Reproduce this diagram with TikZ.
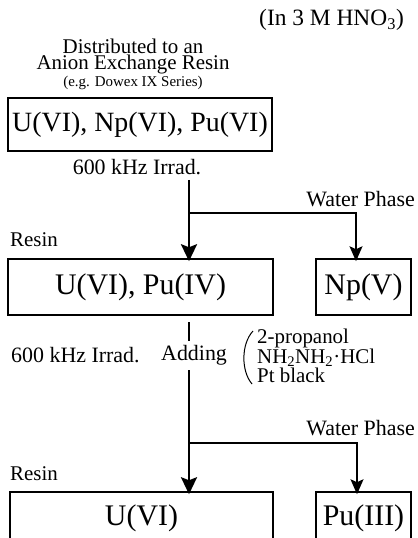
\documentclass[tikz,border=0pt]{standalone}
\usepackage{fontspec}
\setmainfont{Liberation Serif}
\usetikzlibrary{arrows.meta}
\begin{document}
\begin{tikzpicture}[x=1bp,y=-1bp,
  box/.style={draw, line width=1.5bp, inner sep=0pt, font=\fontsize{30}{30}\selectfont},
  lbl/.style={inner sep=0pt, font=\fontsize{22}{22}\selectfont},
  mainarrow/.style={line width=2.5bp, -{Stealth[length=17bp, width=16bp, inset=3bp]}},
  brancharrow/.style={line width=1.5bp, -{Stealth[length=15bp, width=13bp, inset=3bp]}},
  stem/.style={line width=2.5bp}]
\useasboundingbox (0,0) rectangle (417,538);
\clip (0,0) rectangle (417,538);
% header texts
\node[inner sep=0pt, anchor=base east, font=\fontsize{23.5}{23.5}\selectfont] (hno) at (404,26) {(In 3 M HNO\textsubscript{3})};
\node[inner sep=0pt, anchor=north, align=center, font=\fontsize{21}{16.5}\selectfont] (hdr) at (133,38.5)
  {Distributed to an\\Anion Exchange Resin\\{\fontsize{15}{16}\selectfont (e.g. Dowex IX Series)}};
% boxes
\node[box, font=\fontsize{28}{28}\selectfont, minimum width=264bp, minimum height=53bp] (b1) at (140,124.5) {U(VI), Np(VI), Pu(VI)};
\node[box, minimum width=265bp, minimum height=56bp] (b2) at (140.5,287) {U(VI), Pu(IV)};
\node[box, minimum width=95bp, minimum height=56bp] (np) at (363.5,287) {Np(V)};
\node[box, minimum width=263bp, minimum height=52bp] (b3) at (141.5,518) {U(VI)};
\node[box, minimum width=95bp, minimum height=52bp] (pu) at (363.5,518) {Pu(III)};
% labels
\node[lbl] (irr1) at (137,167) {600 kHz Irrad.};
\node[lbl, anchor=east] (wp1) at (415,199) {Water Phase};
\node[lbl, anchor=west, font=\fontsize{21}{21}\selectfont] (res1) at (10,240) {Resin};
\node[lbl, anchor=west] (irr2) at (11,355) {600 kHz Irrad.};
\node[lbl, anchor=west] (add) at (161,355) {Adding};
\node[lbl, anchor=north west, align=left, font=\fontsize{21}{18.5}\selectfont] (reag) at (257,329)
  {2-propanol\\NH\textsubscript{2}NH\textsubscript{2}·HCl\\Pt black};
\node[lbl, anchor=east] (wp2) at (415,428) {Water Phase};
\node[lbl, anchor=west, font=\fontsize{21}{21}\selectfont] (res2) at (10,474) {Resin};
% connectors
\coordinate (s1) at (189,180);
\coordinate (j1) at (189,213);
\coordinate (t1) at (356,213);
\draw[mainarrow] (s1) -- ([yshift=-3bp]s1 |- b2.north);
\draw[brancharrow] (j1) -- (t1) -- ([yshift=-3bp]t1 |- np.north);
\coordinate (s2) at (189,322);
\coordinate (e2) at (189,341);
\draw[stem] (s2) -- (e2);
\coordinate (s3) at (189,370);
\coordinate (j2) at (189,443);
\coordinate (t2) at (357,443);
\draw[mainarrow] (s3) -- ([yshift=-3bp]s3 |- b3.north);
\draw[brancharrow] (j2) -- (t2) -- ([yshift=-3bp]t2 |- pu.north);
% bracket
\coordinate (bt) at (253,331);
\coordinate (bb) at (252,384);
\draw[line width=1bp] (bt) .. controls (241,344) and (241,371) .. (bb);
\end{tikzpicture}
\end{document}
